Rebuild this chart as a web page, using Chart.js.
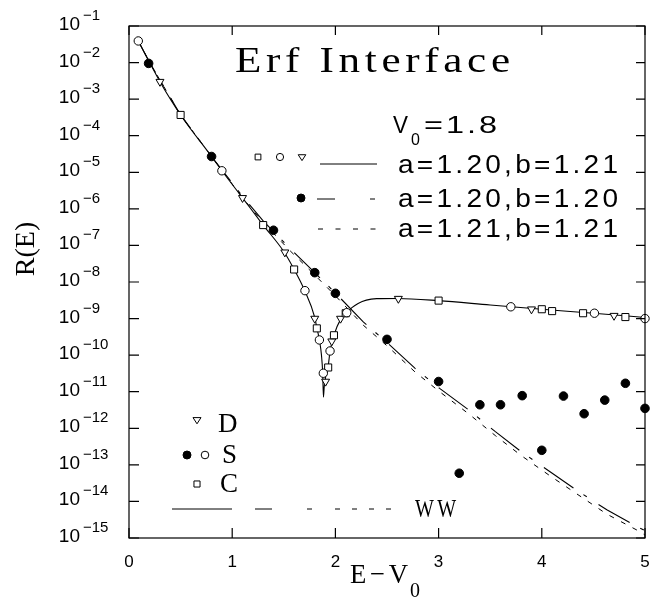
<!DOCTYPE html>
<html>
<head>
<meta charset="utf-8">
<script src="https://cdn.jsdelivr.net/npm/chart.js@4/dist/chart.umd.min.js"></script>
<style>
  body { margin: 0; background: #fff; }
</style>
</head>
<body>
<canvas id="erfChart" width="651" height="600"></canvas>
<script>
// axes
var xTicks = [0, 1, 2, 3, 4, 5];
var yExps = [-1, -2, -3, -4, -5, -6, -7, -8, -9, -10, -11, -12, -13, -14, -15];

// D (open triangles)
var dX = [0.30, 1.10, 1.51, 1.80, 1.905, 1.965, 2.05, 2.61, 3.90, 4.70];
var dY = [3.0e-3, 2.0e-6, 6.5e-8, 1.0e-9, 1.9e-11, 2.4e-10, 1.0e-9, 3.5e-9, 1.8e-9, 1.2e-9];

// S (open circles)
var sOpenX = [0.09, 0.90, 1.705, 1.845, 1.883, 1.948, 2.11, 3.70, 4.51, 5.00];
var sOpenY = [3.9e-2, 1.1e-5, 5.8e-9, 2.6e-10, 3.2e-11, 1.3e-10, 1.45e-9, 2.1e-9, 1.4e-9, 1.0e-9];

// S (filled circles)
var sFillX = [0.19, 0.80, 1.40, 1.80, 2.00, 2.50, 3.00, 3.20, 3.40, 3.60, 3.81, 4.00, 4.21, 4.41, 4.61, 4.81, 5.00];
var sFillY = [9.5e-3, 2.7e-5, 2.6e-7, 1.8e-8, 4.9e-9, 2.7e-10, 1.9e-11, 5.9e-14, 4.4e-12, 4.4e-12, 7.8e-12, 2.5e-13, 7.6e-12, 2.5e-12, 5.9e-12, 1.7e-11, 3.5e-12];

// C (open squares)
var cX = [0.50, 1.30, 1.60, 1.82, 1.93, 1.986, 2.10, 3.00, 4.00, 4.10, 4.40, 4.81];
var cY = [3.7e-4, 3.6e-7, 2.2e-8, 5.4e-10, 4.6e-11, 3.5e-10, 1.4e-9, 3.1e-9, 1.8e-9, 1.6e-9, 1.4e-9, 1.1e-9];

// WW  a=1.20, b=1.21 (solid)
var solidX = [0.09, 0.2, 0.3, 0.5, 0.8, 0.9, 1.1, 1.3, 1.5, 1.6, 1.7, 1.8, 1.82, 1.845, 1.865, 1.877, 1.884, 1.892, 1.905, 1.93, 1.948, 1.986, 2.05, 2.11, 2.16, 2.22, 2.3, 2.4, 2.6, 3.0, 3.5, 4.0, 4.5, 5.0];
var solidY = [3.9e-2, 1.0e-2, 3.0e-3, 3.7e-4, 2.7e-5, 1.1e-5, 2.0e-6, 3.6e-7, 6.8e-8, 2.2e-8, 6.0e-9, 1.07e-9, 5.6e-10, 2.6e-10, 1.0e-10, 3.2e-11, 7.1e-12, 1.4e-11, 2.5e-11, 5.0e-11, 1.26e-10, 3.5e-10, 9.5e-10, 1.45e-9, 2.0e-9, 2.6e-9, 3.2e-9, 3.5e-9, 3.55e-9, 3.1e-9, 2.35e-9, 1.8e-9, 1.4e-9, 1.07e-9];

// WW  a=1.20, b=1.20 (long-short dash)
var dashX = [0.09, 0.2, 0.5, 0.8, 1.1, 1.3, 1.56, 1.8, 2.0, 2.27, 2.51, 2.77, 3.01, 3.29, 3.55, 3.80, 4.08, 4.34, 4.63, 4.93, 5.0];
var dashY = [3.9e-2, 1.0e-2, 3.7e-4, 2.7e-5, 2.2e-6, 4.7e-7, 8.3e-8, 1.8e-8, 5.0e-9, 8.1e-10, 2.1e-10, 4.4e-11, 1.23e-11, 3.2e-12, 8.1e-13, 2.3e-13, 6.5e-14, 2.0e-14, 5.9e-15, 2.0e-15, 1.6e-15];

// WW  a=1.21, b=1.21 (short dash)
var dotX = [0.09, 0.2, 0.5, 0.8, 1.1, 1.3, 1.56, 1.8, 2.0, 2.27, 2.51, 2.77, 3.01, 3.29, 3.55, 3.80, 4.08, 4.34, 4.63, 4.93, 5.0];
var dotY = [3.9e-2, 1.0e-2, 3.7e-4, 2.7e-5, 2.0e-6, 4.2e-7, 7.2e-8, 1.55e-8, 4.2e-9, 6.6e-10, 1.7e-10, 3.5e-11, 1.0e-11, 2.5e-12, 6.3e-13, 1.8e-13, 5.0e-14, 1.6e-14, 4.5e-15, 1.6e-15, 1.2e-15];

function pts(xs, ys) {
  return xs.map(function (x, i) { return { x: x, y: ys[i] }; });
}

var SANS = '"Liberation Sans", Arial, sans-serif';
var SERIF = '"Liberation Serif", "Times New Roman", serif';

// draw a string widened to a given width: glyphs stretched a bit, even gaps
function fit(ctx, str, x, y, width, size) {
  var gap = size * 0.13;
  var w = 0;
  for (var i = 0; i < str.length; i++) w += ctx.measureText(str[i]).width;
  var s = (width - gap * (str.length - 1)) / w;
  for (var j = 0; j < str.length; j++) {
    ctx.save();
    ctx.translate(x, y);
    ctx.scale(s, 1);
    ctx.fillText(str[j], 0, 0);
    ctx.restore();
    x += ctx.measureText(str[j]).width * s + gap;
  }
}

function mark(ctx, kind, x, y, r) {
  ctx.beginPath();
  if (kind === 'circle' || kind === 'dot') {
    ctx.arc(x, y, r, 0, Math.PI * 2);
  } else if (kind === 'rect') {
    ctx.rect(x - r * 0.8, y - r * 0.8, r * 1.6, r * 1.6);
  } else {
    ctx.moveTo(x - r, y - r * 0.6);
    ctx.lineTo(x + r, y - r * 0.6);
    ctx.lineTo(x, y + r * 0.95);
    ctx.closePath();
  }
  ctx.fillStyle = kind === 'dot' ? '#000' : '#fff';
  ctx.fill();
  ctx.stroke();
  ctx.fillStyle = '#000';
}

function seg(ctx, x1, x2, y, dash) {
  ctx.setLineDash(dash || []);
  ctx.beginPath();
  ctx.moveTo(x1, y);
  ctx.lineTo(x2, y);
  ctx.stroke();
  ctx.setLineDash([]);
}

var paperPlugin = {
  id: 'paper',
  afterDraw: function (chart) {
    var ctx = chart.ctx, a = chart.chartArea;
    var xs = chart.scales.x, ys = chart.scales.y;
    ctx.save();
    ctx.strokeStyle = '#000';
    ctx.fillStyle = '#000';
    ctx.lineWidth = 1.2;
    ctx.strokeRect(a.left, a.top, a.right - a.left, a.bottom - a.top);

    // inward ticks
    ctx.beginPath();
    xTicks.forEach(function (v) {
      var px = xs.getPixelForValue(v);
      ctx.moveTo(px, a.bottom); ctx.lineTo(px, a.bottom - 10);
      ctx.moveTo(px, a.top); ctx.lineTo(px, a.top + 9);
    });
    yExps.forEach(function (e) {
      var py = ys.getPixelForValue(Math.pow(10, e));
      ctx.moveTo(a.left, py); ctx.lineTo(a.left + 10, py);
      ctx.moveTo(a.right, py); ctx.lineTo(a.right - 9, py);
    });
    ctx.stroke();

    // tick labels
    ctx.textAlign = 'center';
    ctx.font = '17px ' + SANS;
    xTicks.forEach(function (v) {
      ctx.fillText(String(v), xs.getPixelForValue(v), a.bottom + 29);
    });
    yExps.forEach(function (e) {
      var py = ys.getPixelForValue(Math.pow(10, e));
      ctx.textAlign = 'right';
      ctx.font = '19px ' + SANS;
      ctx.fillText('10', a.left - 49, py + 4);
      ctx.textAlign = 'left';
      ctx.font = '15px ' + SANS;
      ctx.fillText('\u2212' + Math.abs(e), a.left - 46, py - 6);
    });

    // axis titles
    ctx.textAlign = 'left';
    ctx.font = '28px ' + SERIF;
    fit(ctx, 'E\u2212V', 350, a.bottom + 45, 58, 28);
    ctx.font = '20px ' + SERIF;
    ctx.fillText('0', 410, a.bottom + 59);
    ctx.save();
    ctx.translate(27, 249);
    ctx.rotate(-Math.PI / 2);
    ctx.textAlign = 'center';
    ctx.textBaseline = 'middle';
    ctx.font = '28px ' + SERIF;
    ctx.fillText('R(E)', 0, 0);
    ctx.restore();

    // title
    ctx.textAlign = 'left';
    ctx.font = '36px ' + SERIF;
    fit(ctx, 'Erf Interface', 235, 72, 275, 36);

    // upper legend
    ctx.font = '23px ' + SANS;
    fit(ctx, 'V', 393, 133, 15, 23);
    ctx.font = '16px ' + SANS;
    ctx.fillText('0', 411, 145);
    ctx.font = '23px ' + SANS;
    fit(ctx, '=1.8', 424, 133, 73, 23);
    ctx.font = '25px ' + SANS;
    fit(ctx, 'a=1.20,b=1.21', 398, 173, 220, 25);
    fit(ctx, 'a=1.20,b=1.20', 398, 207, 220, 25);
    fit(ctx, 'a=1.21,b=1.21', 398, 237, 220, 25);

    ctx.lineWidth = 1;
    mark(ctx, 'rect', 258, 157, 3.6);
    mark(ctx, 'circle', 280, 157, 3.6);
    mark(ctx, 'tri', 302, 157, 3.8);
    seg(ctx, 320, 377, 164);
    mark(ctx, 'dot', 301, 198, 4);
    seg(ctx, 317, 335, 199);
    seg(ctx, 370, 375, 199);
    seg(ctx, 318, 376, 229, [5, 12.5]);

    // lower legend
    mark(ctx, 'tri', 197, 420, 4);
    mark(ctx, 'dot', 187, 455, 4);
    mark(ctx, 'circle', 205, 455, 3.8);
    mark(ctx, 'rect', 197, 484, 3.8);
    ctx.font = '27px ' + SERIF;
    ctx.fillText('D', 218, 432);
    ctx.fillText('S', 222, 463);
    ctx.fillText('C', 220, 492);
    seg(ctx, 172, 232, 509);
    seg(ctx, 255, 272, 509);
    seg(ctx, 307, 312, 509);
    seg(ctx, 335, 392, 509, [5, 12]);
    ctx.font = '25px ' + SERIF;
    fit(ctx, 'WW', 415, 517, 41, 25);
    ctx.restore();
  }
};

var markerBase = { showLine: false, pointBorderColor: '#000', pointBorderWidth: 1, clip: false };

new Chart(document.getElementById('erfChart'), {
  type: 'scatter',
  data: {
    datasets: [
      Object.assign({ label: 'S filled', data: pts(sFillX, sFillY), pointStyle: 'circle', pointRadius: 4.3, pointBackgroundColor: '#000' }, markerBase),
      Object.assign({ label: 'S open', data: pts(sOpenX, sOpenY), pointStyle: 'circle', pointRadius: 4.2, pointBackgroundColor: '#fff' }, markerBase),
      Object.assign({ label: 'C', data: pts(cX, cY), pointStyle: 'rect', pointRadius: 5, pointBackgroundColor: '#fff' }, markerBase),
      Object.assign({ label: 'D', data: pts(dX, dY), pointStyle: 'triangle', pointRotation: 180, pointRadius: 4.6, pointBackgroundColor: '#fff' }, markerBase),
      { label: 'a=1.20,b=1.21', data: pts(solidX, solidY), showLine: true, pointRadius: 0, borderColor: '#000', borderWidth: 1.1, cubicInterpolationMode: 'monotone' },
      { label: 'a=1.20,b=1.20', data: pts(dashX, dashY), showLine: true, pointRadius: 0, borderColor: '#000', borderWidth: 1.1, borderDash: [36, 12, 4, 14] },
      { label: 'a=1.21,b=1.21', data: pts(dotX, dotY), showLine: true, pointRadius: 0, borderColor: '#000', borderWidth: 1, borderDash: [5, 8] }
    ]
  },
  options: {
    responsive: false,
    animation: false,
    layout: { padding: { left: 129, top: 26, right: 6, bottom: 62 } },
    plugins: { legend: { display: false }, tooltip: { enabled: false } },
    scales: {
      x: { type: 'linear', min: 0, max: 5, display: false },
      y: { type: 'logarithmic', min: 1e-15, max: 1e-1, display: false }
    }
  },
  plugins: [paperPlugin]
});
</script>
</body>
</html>
